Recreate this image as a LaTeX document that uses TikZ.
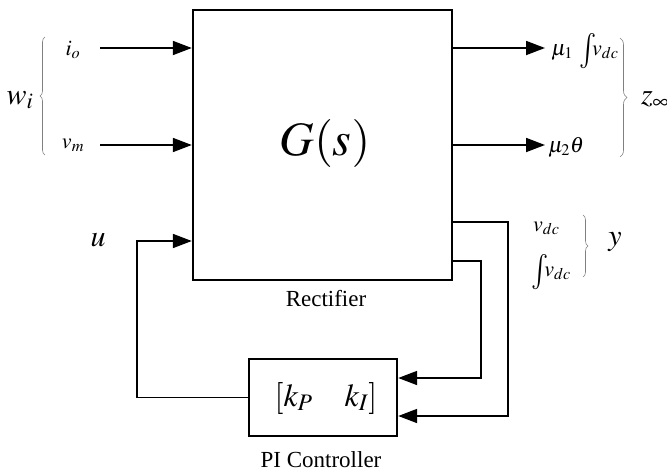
\documentclass[tikz,border=0pt]{standalone}
\usepackage{graphicx}
\usepackage{mathptmx}
\usepackage{fontspec}
\setmainfont{Liberation Serif}
\usetikzlibrary{arrows.meta,decorations.pathreplacing}
\newcommand{\bigint}{\raisebox{-0.22em}{\scalebox{1.3}[1.6]{$\int$}}}
\tikzset{
  blockbox/.style={draw, line width=2.4pt, inner sep=0pt},
  wire/.style={line width=1.8pt},
  arr/.style={wire, -{Triangle[length=19pt,width=14pt]}},
  brc/.style={draw=gray, line width=0.6pt, decorate, decoration={brace, amplitude=6pt}},
  lbl/.style={inner sep=0pt, font=\fontsize{22}{26}\selectfont},
  biglbl/.style={inner sep=0pt, font=\fontsize{30}{34}\selectfont},
}
\begin{document}
\begin{tikzpicture}[x=1pt,y=-1pt]
\useasboundingbox (0,0) rectangle (667,471);
% blocks
\node[blockbox, minimum width=259pt, minimum height=270pt] (G) at (322.5,145) {};
\node[inner sep=0pt] (Gs) at (325,143) {\fontsize{48}{52}\selectfont $G(s)$};
\node[inner sep=0pt, anchor=base, font=\fontsize{23}{26}\selectfont] (rect) at (326,306) {Rectifier};
\node[blockbox, minimum width=148pt, minimum height=77pt] (PI) at (323,397.5) {};
\node[inner sep=0pt, font=\fontsize{32}{36}\selectfont] (k) at (326,398) {$[k_P\quad k_I]$};
\node[inner sep=0pt, anchor=base, font=\fontsize{23}{26}\selectfont] (pic) at (321,467) {PI Controller};
% coordinates
\coordinate (io) at (100,48);
\coordinate (vm) at (100,145);
\coordinate (z1) at (545,48);
\coordinate (z2) at (545,145);
\coordinate (y1) at (508,222);
\coordinate (y2) at (481,261);
\coordinate (p1) at (397,378);
\coordinate (p2) at (397,416);
\coordinate (uc) at (137,241);
% connectors
\draw[arr] (io) -- (io -| G.west);
\draw[arr] (vm) -- (vm -| G.west);
\draw[arr] (z1 -| G.east) -- (z1);
\draw[arr] (z2 -| G.east) -- (z2);
\draw[arr] (y1 -| G.east) -- (y1) |- (PI.east |- p2);
\draw[arr] (y2 -| G.east) -- (y2) |- (PI.east |- p1);
\draw[arr] (PI.west) -| (uc) -- (uc -| G.west);
% labels
\node[lbl] (lio) at (73,50) {$i_o$};
\node[lbl] (lvm) at (73,145) {$v_m$};
\node[biglbl] (lw) at (20,100) {$w_i$};
\node[biglbl] (lu) at (98,240) {$u$};
\node[lbl, anchor=base west] (lz1) at (551,55) {$\mu_{1}$\hspace{6pt}\bigint\hspace{-4pt}$v_{dc}$};
\node[lbl, anchor=base west] (lz2) at (548,152) {$\mu_{2}\theta$};
\node[lbl, anchor=base west] (lv) at (533,231) {$v_{dc}$};
\node[lbl, anchor=base west] (liv) at (531,276) {\bigint\hspace{-4pt}$v_{dc}$};
\node[biglbl] (ly) at (615,242) {$y$};
\node[biglbl] (lz) at (655,100) {$z_\infty$};
% braces
\draw[brc, decoration={amplitude=5pt}] (45,155) -- (45,37);
\draw[brc, decoration={amplitude=7pt}] (620,38) -- (620,157);
\draw[brc, decoration={amplitude=5pt}] (583,215) -- (583,277);
\end{tikzpicture}
\end{document}
